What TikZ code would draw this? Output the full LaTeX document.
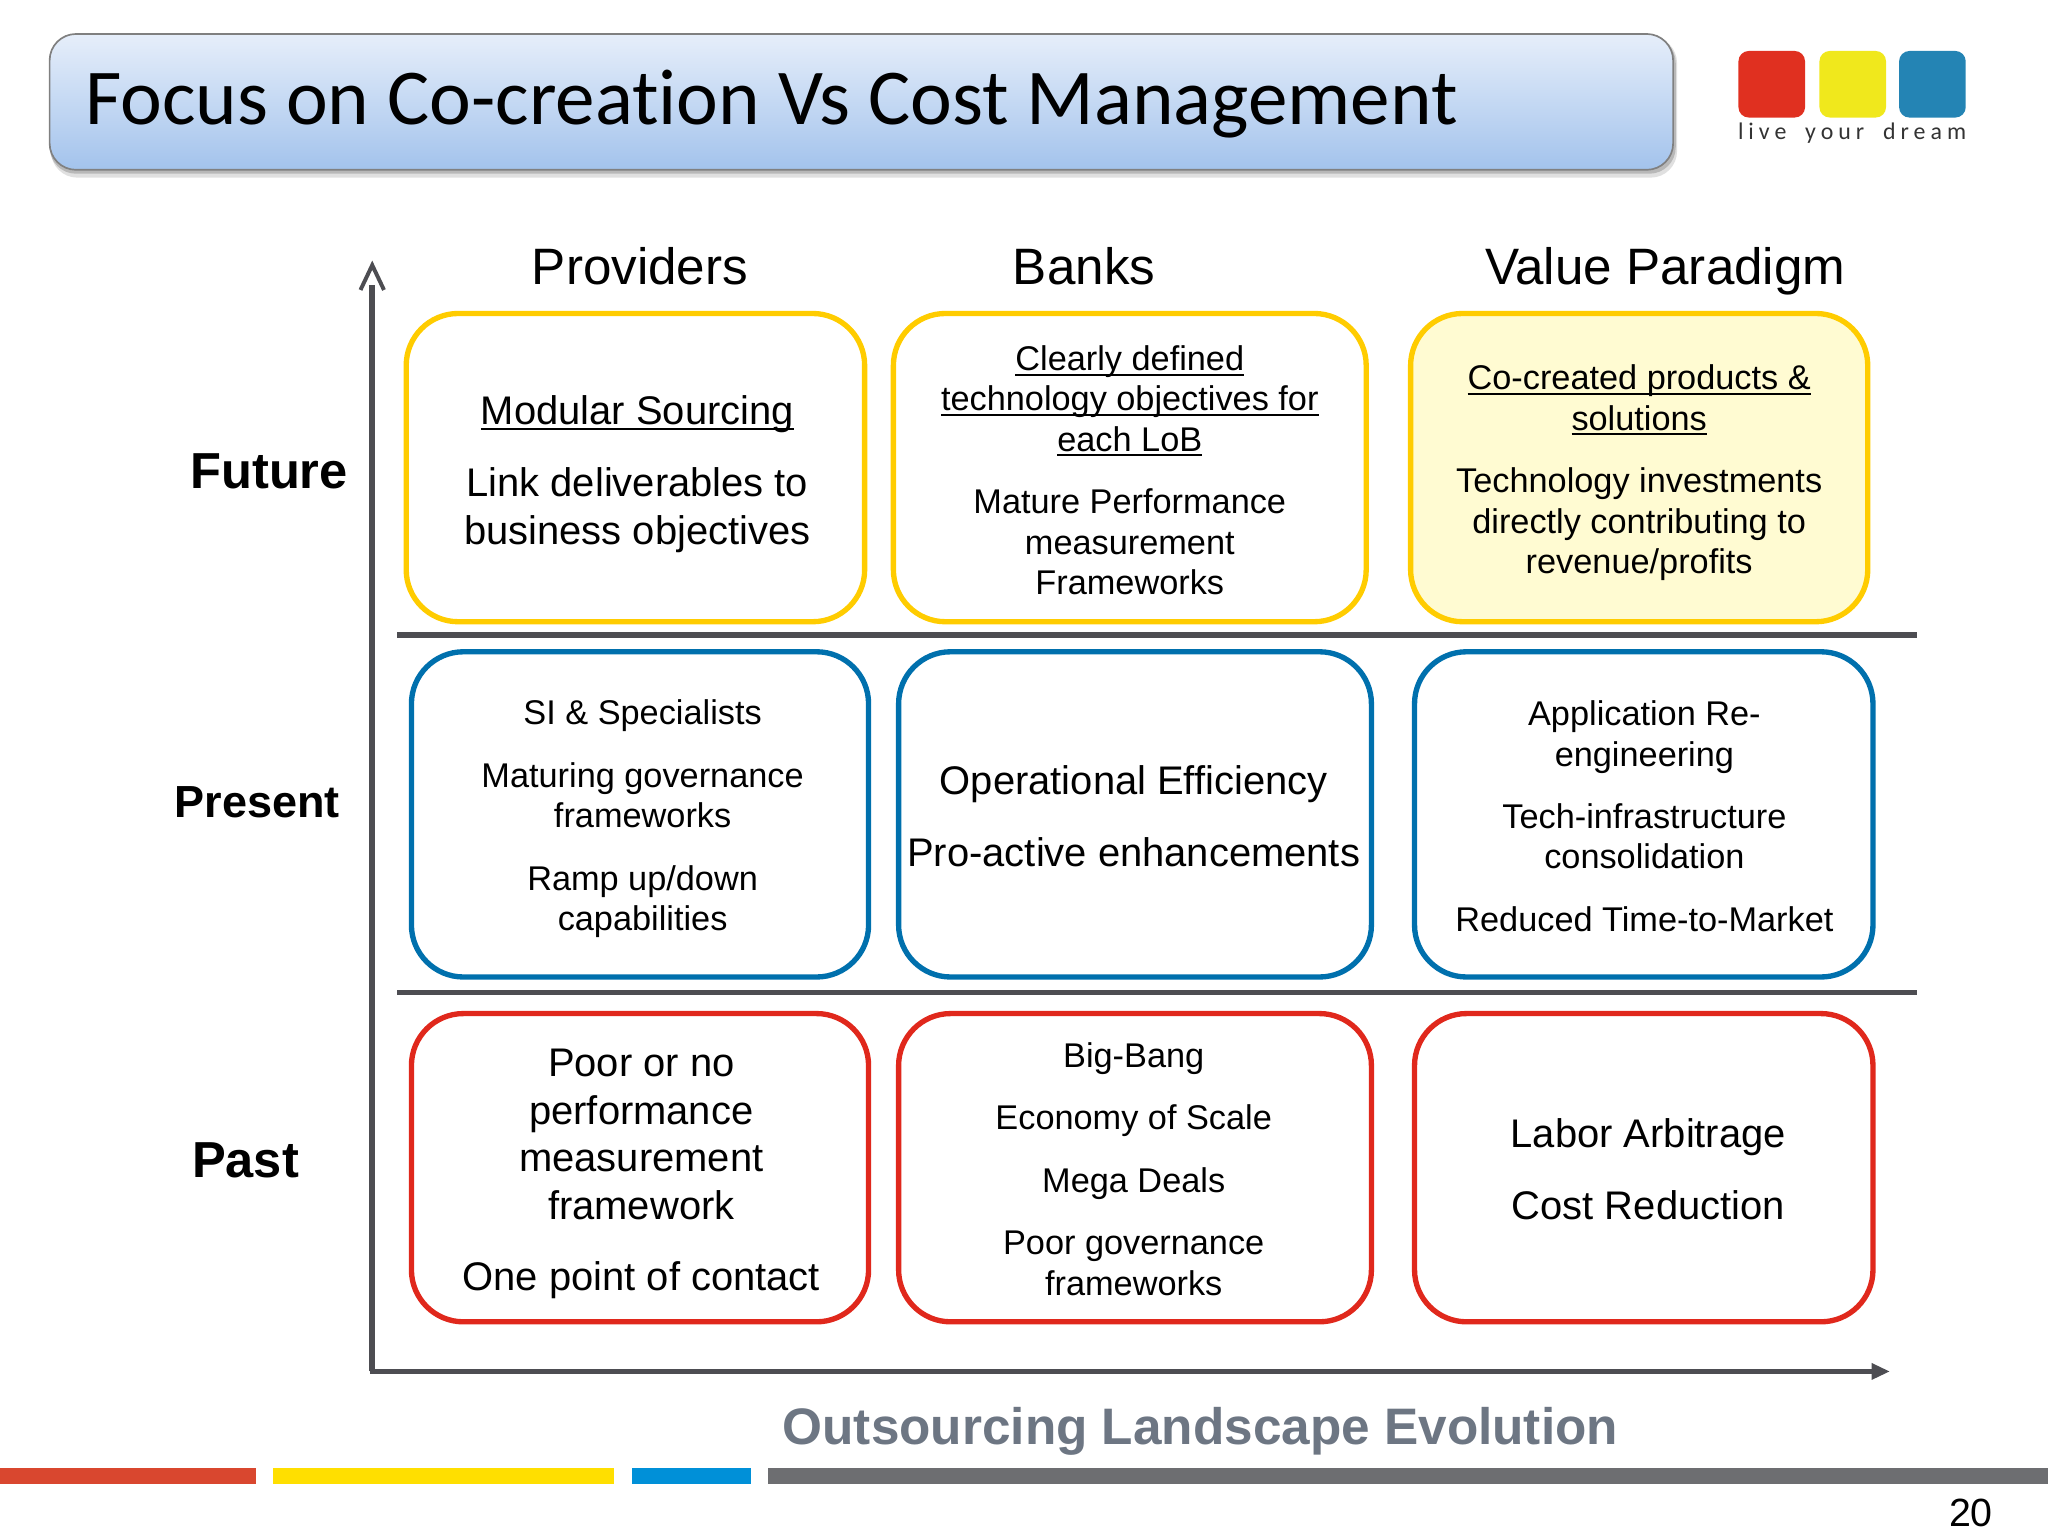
\documentclass[tikz,border=0pt]{standalone}
\usepackage{fontspec}
\setmainfont{Liberation Sans}
\newfontfamily\titlefont[Ligatures=NoCommon]{Carlito}
\newfontfamily\logofont[LetterSpace=21,WordSpace=1.8]{Carlito}
\newsavebox{\ulbox}
\newcommand{\ulined}[1]{\leavevmode\sbox{\ulbox}{#1}\rlap{\rule[-1.8pt]{\wd\ulbox}{0.7pt}}\usebox{\ulbox}}
\usetikzlibrary{arrows.meta}
\definecolor{boxyellow}{HTML}{FFCC00}
\definecolor{paleyellow}{HTML}{FFFBD2}
\definecolor{boxblue}{HTML}{0070AD}
\definecolor{boxred}{HTML}{E0281C}
\definecolor{axisgray}{HTML}{4D4D52}
\definecolor{legendgray}{HTML}{6D7683}
\definecolor{bandtop}{HTML}{E6EEFA}
\definecolor{bandbottom}{HTML}{A3C3EC}
\definecolor{logored}{HTML}{E03020}
\definecolor{logoyellow}{HTML}{F0E81C}
\definecolor{logoblue}{HTML}{2484B4}
\definecolor{footred}{HTML}{D9472F}
\definecolor{footyellow}{HTML}{FFDF00}
\definecolor{footblue}{HTML}{0090D8}
\definecolor{footgray}{HTML}{6D6E71}
\tikzset{
  box/.style={line width=1.9pt,rounded corners=0.65cm},
  big/.style={align=center,inner sep=0pt,font=\fontsize{14.2}{16.9}\selectfont},
  small/.style={align=center,inner sep=0pt,font=\fontsize{12.2}{14.35}\selectfont},
  head/.style={anchor=base,inner sep=0pt,font=\fontsize{18.2}{21}\selectfont},
  era/.style={inner sep=0pt,font=\fontsize{18}{21}\bfseries\selectfont},
  axis/.style={line width=2pt,color=axisgray}
}
\begin{document}
\begin{tikzpicture}[x=0.016327cm,y=-0.016327cm]
\useasboundingbox (0,0) rectangle (1568,1176);
% title band
\fill[black,opacity=0.12,rounded corners=0.33cm] (39,28) rectangle (1284,136);
\fill[black,opacity=0.18,rounded corners=0.33cm] (38,28) rectangle (1283,133);
\draw[color=gray,line width=0.6pt,rounded corners=0.33cm,top color=bandtop,bottom color=bandbottom] (38,26) rectangle (1281,130);
\node[anchor=base west,inner sep=0pt,font=\titlefont\fontsize{28.15}{34}\selectfont] (title) at (65,95) {Focus on Co-creation Vs Cost Management};
% logo
\fill[color=logored,rounded corners=0.13cm] (1331,39) rectangle (1382,90);
\fill[color=logoyellow,rounded corners=0.13cm] (1393,39) rectangle (1444,90);
\fill[color=logoblue,rounded corners=0.13cm] (1454,39) rectangle (1505,90);
\node[inner sep=0pt,color=black!80,font=\logofont\fontsize{8.5}{10}\selectfont] (slogan) at (1418,102) {live your dream};
% column heads
\node[head] (providers) at (490,218) {Providers};
\node[head] (banks) at (830,218) {Banks};
\node[head] (value) at (1275,218) {Value Paradigm};
% row heads
\node[era] (future) at (206,361) {Future};
\node[inner sep=0pt,font=\fontsize{16}{19}\bfseries\selectfont] (present) at (197,614) {Present};
\node[era] (past) at (188,888) {Past};
% axes
\draw[axis] (285,1050) -- (285,218);
\draw[line width=1.4pt,color=axisgray] (276,222) -- (285,203) -- (294,222);
\draw[axis,-{Triangle[length=6.5pt,width=5.5pt]}] (283,1050) -- (1447,1050);
% separators
\draw[axis] (304,486) -- (1468,486);
\draw[axis] (304,760) -- (1468,760);
% future row
\draw[box,draw=boxyellow] (311,240) rectangle (662,476);
\draw[box,draw=boxyellow] (684,240) rectangle (1046,476);
\draw[box,draw=boxyellow,fill=paleyellow] (1080,240) rectangle (1430,476);
\node[big] (modular) at (488,363) {\ulined{Modular Sourcing}\\[8.6pt]Link deliverables to\\business objectives};
\node[small] (clearly) at (865,360) {\ulined{Clearly defined}\\\ulined{technology objectives for}\\\ulined{each LoB}\\[7.9pt]Mature Performance\\measurement\\Frameworks};
\node[small] (cocreated) at (1255,362) {\ulined{Co-created products \&}\\\ulined{solutions}\\[7.9pt]Technology investments\\directly contributing to\\revenue/profits};
% present row
\draw[box,draw=boxblue] (315,499) rectangle (665,748);
\draw[box,draw=boxblue] (688,499) rectangle (1050,748);
\draw[box,draw=boxblue] (1083,499) rectangle (1434,748);
\node[small] (specialists) at (492,627) {SI \& Specialists\\[7.9pt]Maturing governance\\frameworks\\[7.9pt]Ramp up/down\\capabilities};
\node[big] (efficiency) at (868,625) {Operational Efficiency\\[8.6pt]Pro-active enhancements};
\node[small] (reengineering) at (1259,625) {Application Re-\\engineering\\[7.9pt]Tech-infrastructure\\consolidation\\[7.9pt]Reduced Time-to-Market};
% past row
\draw[box,draw=boxred] (315,776) rectangle (665,1012);
\draw[box,draw=boxred] (688,776) rectangle (1050,1012);
\draw[box,draw=boxred] (1083,776) rectangle (1434,1012);
\node[big] (poor) at (491,899) {Poor or no\\performance\\measurement\\framework\\[8.6pt]One point of contact};
\node[small] (bigbang) at (868,895) {Big-Bang\\[7.9pt]Economy of Scale\\[7.9pt]Mega Deals\\[7.9pt]Poor governance\\frameworks};
\node[big] (labor) at (1262,895) {Labor Arbitrage\\[8.6pt]Cost Reduction};
% legend
\node[inner sep=0pt,color=legendgray,font=\fontsize{18.25}{21}\bfseries\selectfont] (landscape) at (919,1096) {Outsourcing Landscape Evolution};
% footer
\fill[color=footred] (0,1124) rectangle (196,1136);
\fill[color=footyellow] (209,1124) rectangle (470,1136);
\fill[color=footblue] (484,1124) rectangle (575,1136);
\fill[color=footgray] (588,1124) rectangle (1568,1136);
\node[inner sep=0pt,font=\fontsize{14}{17}\selectfont] (pageno) at (1509,1158) {20};
\end{tikzpicture}
\end{document}
